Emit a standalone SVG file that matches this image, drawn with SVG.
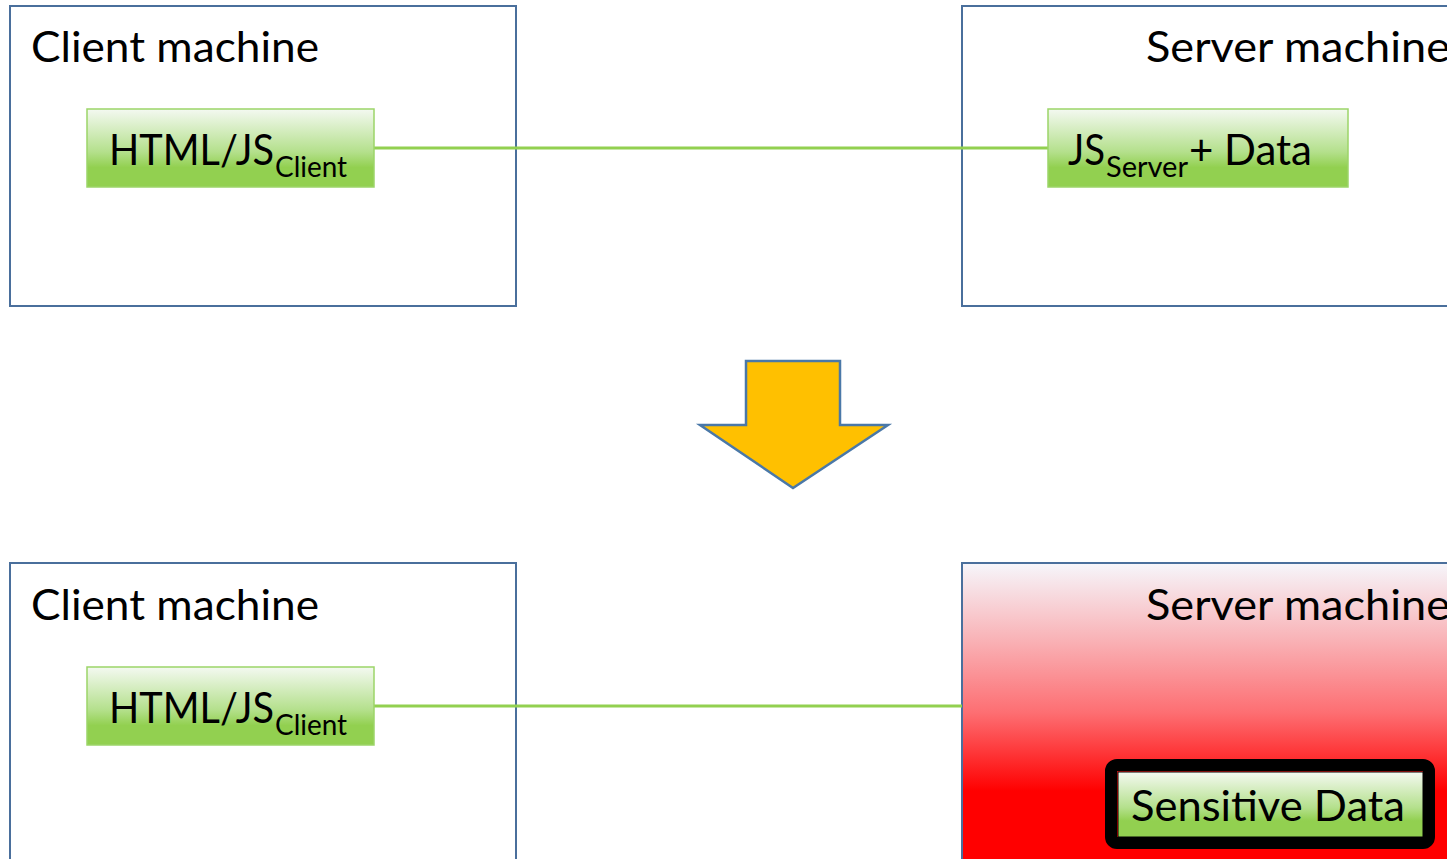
<svg xmlns="http://www.w3.org/2000/svg" width="1447" height="859" viewBox="0 0 1447 859">
  <defs>
    <linearGradient id="greenFill" x1="0" y1="0" x2="0" y2="1">
      <stop offset="0" stop-color="#f4f9f1"/>
      <stop offset="0.55" stop-color="#b4e08c"/>
      <stop offset="0.75" stop-color="#92d050"/>
      <stop offset="1" stop-color="#92d050"/>
    </linearGradient>
    <linearGradient id="redFill" x1="0" y1="0" x2="0" y2="1">
      <stop offset="0" stop-color="#f6f6fb"/>
      <stop offset="0.25" stop-color="#f9b4b8"/>
      <stop offset="0.5" stop-color="#fd6e72"/>
      <stop offset="0.76" stop-color="#ff0000"/>
      <stop offset="1" stop-color="#ff0000"/>
    </linearGradient>
    <style>
      .machine { fill: #ffffff; stroke: #4a6f9c; stroke-width: 2; }
      .comp { fill: url(#greenFill); stroke: #9cd568; stroke-width: 1.5; }
      .link { stroke: #92d050; stroke-width: 3; fill: none; }
      .title { font-family: Lato, "Liberation Sans", sans-serif; font-size: 43px; fill: #000000; }
      .label { font-family: Lato, "Liberation Sans", sans-serif; font-size: 43px; fill: #000000; }
      .sub { font-size: 29px; }
    </style>
  </defs>

  <!-- machines -->
  <g id="client-top">
    <rect class="machine" x="10" y="6" width="506" height="300"/>
    <text class="title" x="31" y="62" textLength="288" lengthAdjust="spacingAndGlyphs">Client machine</text>
  </g>
  <g id="server-top">
    <rect class="machine" x="962" y="6" width="500" height="300"/>
    <text class="title" x="1146" y="62" textLength="304" lengthAdjust="spacingAndGlyphs">Server machine</text>
  </g>
  <g id="client-bottom">
    <rect class="machine" x="10" y="563" width="506" height="300"/>
    <text class="title" x="31" y="620" textLength="288" lengthAdjust="spacingAndGlyphs">Client machine</text>
  </g>
  <g id="server-bottom">
    <rect x="962" y="563" width="500" height="300" fill="url(#redFill)" stroke="#4a6f9c" stroke-width="2"/>
    <text class="title" x="1146" y="620" textLength="304" lengthAdjust="spacingAndGlyphs">Server machine</text>
  </g>

  <!-- connectors -->
  <g id="connectors">
    <line class="link" x1="374" y1="148" x2="1048" y2="148"/>
    <line class="link" x1="374" y1="706" x2="962" y2="706"/>
  </g>

  <!-- components -->
  <g id="html-js-top">
    <rect class="comp" x="87" y="109" width="287" height="78"/>
    <text class="label" y="165"><tspan x="109" textLength="165" lengthAdjust="spacingAndGlyphs">HTML/JS</tspan><tspan class="sub" x="275" y="177" textLength="72" lengthAdjust="spacingAndGlyphs">Client</tspan></text>
  </g>
  <g id="js-server">
    <rect class="comp" x="1048" y="109" width="300" height="78"/>
    <text class="label" y="165"><tspan x="1068" textLength="37" lengthAdjust="spacingAndGlyphs">JS</tspan><tspan class="sub" x="1106" y="177" textLength="82" lengthAdjust="spacingAndGlyphs">Server</tspan><tspan x="1189" y="165" textLength="123" lengthAdjust="spacingAndGlyphs">+ Data</tspan></text>
  </g>
  <g id="html-js-bottom">
    <rect class="comp" x="87" y="667" width="287" height="78"/>
    <text class="label" y="723"><tspan x="109" textLength="165" lengthAdjust="spacingAndGlyphs">HTML/JS</tspan><tspan class="sub" x="275" y="735" textLength="72" lengthAdjust="spacingAndGlyphs">Client</tspan></text>
  </g>
  <g id="sensitive-data">
    <rect x="1111" y="765" width="318" height="78" rx="6" fill="none" stroke="#000000" stroke-width="12"/>
    <rect x="1118" y="772" width="305" height="65" fill="url(#greenFill)" stroke="#000000" stroke-width="1"/>
    <text class="label" x="1131" y="821" textLength="274" lengthAdjust="spacingAndGlyphs">Sensitive Data</text>
  </g>

  <!-- transition arrow -->
  <g id="arrow">
    <polygon points="746,361 840,361 840,425 888,425 793,488 700,425 746,425" fill="#ffc000" stroke="#4a78a8" stroke-width="2.5" stroke-linejoin="miter"/>
  </g>
</svg>
